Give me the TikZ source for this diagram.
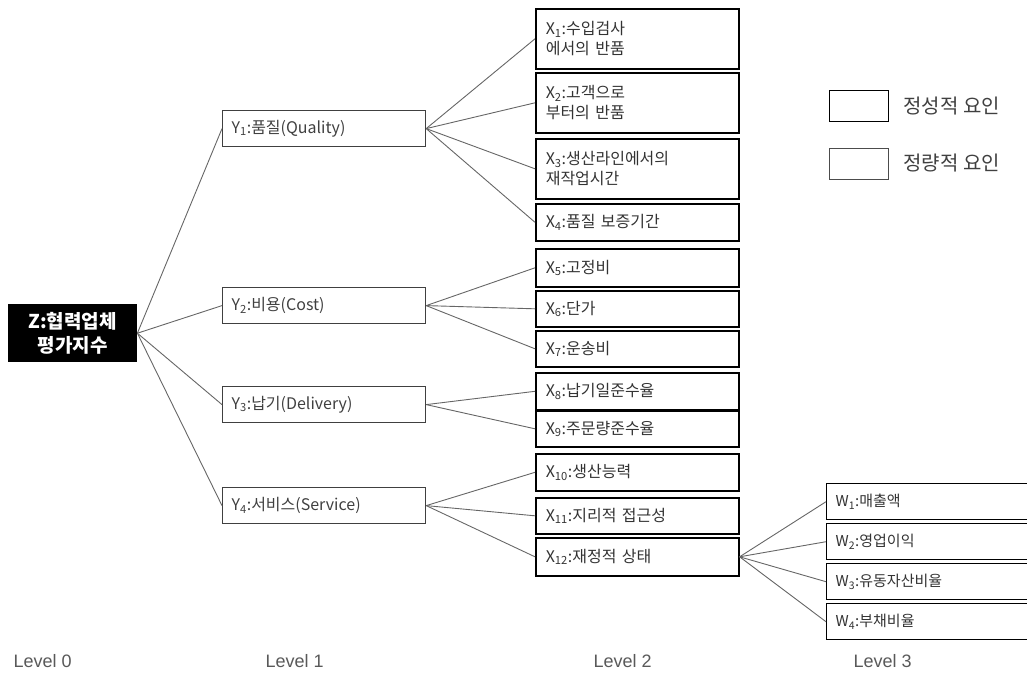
\documentclass[tikz,border=0pt]{standalone}
\usepackage{fontspec}
\setmainfont{Noto Sans CJK KR}
\setsansfont{Liberation Sans}
\begin{document}
\begin{tikzpicture}[x=1pt,y=-1pt,
  xbox/.style={draw=black,line width=1.6pt,anchor=north west,minimum width=203pt,
    text width=183pt,inner xsep=10pt,align=left,font=\fontsize{16}{20}\selectfont,text=black!80},
  ybox/.style={draw=black!75,line width=1.2pt,anchor=north west,minimum width=203pt,minimum height=36pt,
    text width=185pt,inner xsep=9pt,align=left,font=\fontsize{16}{18}\selectfont,text=black!75},
  wbox/.style={draw=black,line width=1.4pt,anchor=north west,minimum width=203pt,minimum height=36pt,
    text width=185pt,inner xsep=9pt,align=left,font=\fontsize{15}{18}\selectfont,text=black!80},
  legbox/.style={draw=black,line width=1.4pt,anchor=north west,minimum width=59pt,minimum height=31pt,inner sep=0pt},
  conn/.style={draw=black!60,line width=0.9pt},
  lvl/.style={font=\sffamily\fontsize{18}{20}\selectfont,text=black!65,anchor=west},
  legtxt/.style={font=\fontsize{20}{24}\selectfont,text=black!75,anchor=west}]
\useasboundingbox (0,0) rectangle (1027,681);
% root
\node[fill=black,anchor=north west,minimum width=129pt,minimum height=58pt,inner sep=1pt,
  text=white,align=center,font=\bfseries\fontsize{19}{24}\selectfont] (Z) at (8,304) {Z:협력업체\\평가지수};
% level 1
\node[ybox] (Y1) at (222,110) {Y\textsubscript{1}:품질(Quality)};
\node[ybox] (Y2) at (222,287) {Y\textsubscript{2}:비용(Cost)};
\node[ybox] (Y3) at (222,386) {Y\textsubscript{3}:납기(Delivery)};
\node[ybox] (Y4) at (222,487) {Y\textsubscript{4}:서비스(Service)};
% level 2
\node[xbox,minimum height=60pt] (X1) at (535,8) {X\textsubscript{1}:수입검사\\에서의 반품};
\node[xbox,minimum height=60pt] (X2) at (535,72) {X\textsubscript{2}:고객으로\\부터의 반품};
\node[xbox,minimum height=60pt] (X3) at (535,138) {X\textsubscript{3}:생산라인에서의\\재작업시간};
\node[xbox,minimum height=37pt] (X4) at (535,203) {X\textsubscript{4}:품질 보증기간};
\node[xbox,minimum height=38pt] (X5) at (535,248) {X\textsubscript{5}:고정비};
\node[xbox,minimum height=36pt] (X6) at (535,290) {X\textsubscript{6}:단가};
\node[xbox,minimum height=36pt] (X7) at (535,330) {X\textsubscript{7}:운송비};
\node[xbox,minimum height=37pt] (X8) at (535,372) {X\textsubscript{8}:납기일준수율};
\node[xbox,minimum height=36pt] (X9) at (535,410) {X\textsubscript{9}:주문량준수율};
\node[xbox,minimum height=37pt] (X10) at (535,453) {X\textsubscript{10}:생산능력};
\node[xbox,minimum height=36pt] (X11) at (535,497) {X\textsubscript{11}:지리적 접근성};
\node[xbox,minimum height=38pt] (X12) at (535,537) {X\textsubscript{12}:재정적 상태};
% level 3
\node[wbox] (W1) at (826,483) {W\textsubscript{1}:매출액};
\node[wbox] (W2) at (826,523) {W\textsubscript{2}:영업이익};
\node[wbox] (W3) at (826,563) {W\textsubscript{3}:유동자산비율};
\node[wbox] (W4) at (826,603) {W\textsubscript{4}:부채비율};
% legend
\node[legbox] (L1) at (829,90) {};
\node[legtxt] (L1t) at (900,106) {정성적 요인};
\node[legbox,draw=black!70] (L2) at (829,148) {};
\node[legtxt] (L2t) at (900,163) {정량적 요인};
% levels
\node[lvl] (lv0) at (10,661) {Level 0};
\node[lvl] (lv1) at (262,661) {Level 1};
\node[lvl] (lv2) at (590,661) {Level 2};
\node[lvl] (lv3) at (850,661) {Level 3};
% connectors
\foreach \y in {Y1,Y2,Y3,Y4} \draw[conn] (Z.east) -- (\y.west);
\foreach \x in {X1,X2,X3,X4} \draw[conn] (Y1.east) -- (\x.west);
\foreach \x in {X5,X6,X7} \draw[conn] (Y2.east) -- (\x.west);
\foreach \x in {X8,X9} \draw[conn] (Y3.east) -- (\x.west);
\foreach \x in {X10,X11,X12} \draw[conn] (Y4.east) -- (\x.west);
\foreach \w in {W1,W2,W3,W4} \draw[conn] (X12.east) -- (\w.west);
\end{tikzpicture}
\end{document}
